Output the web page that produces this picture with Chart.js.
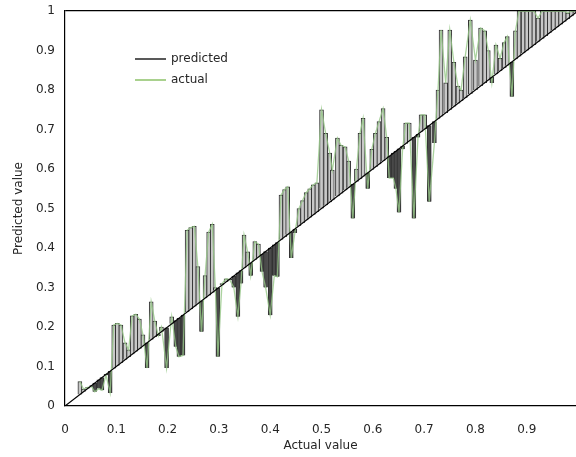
<!DOCTYPE html>
<html>
<head>
<meta charset="utf-8">
<script src="https://cdn.jsdelivr.net/npm/chart.js@4.4.0/dist/chart.umd.min.js"></script>
<style>
  html, body { margin: 0; padding: 0; background: #fff; }
  #wrap { width: 576px; height: 457px; }
</style>
</head>
<body>
<div id="wrap"><canvas id="myChart"></canvas></div>
<script>
// samples sorted by actual value
const actual = [
  0.029, 0.036, 0.044, 0.052, 0.058, 0.066, 0.072, 0.080, 0.088, 0.095,
  0.102, 0.109, 0.117, 0.124, 0.131, 0.138, 0.145, 0.152, 0.160, 0.168,
  0.175, 0.182, 0.188, 0.198, 0.208, 0.216, 0.222, 0.230, 0.238, 0.245,
  0.252, 0.259, 0.266, 0.273, 0.280, 0.287, 0.293, 0.298, 0.306, 0.314,
  0.321, 0.329, 0.337, 0.343, 0.349, 0.356, 0.362, 0.370, 0.377, 0.384,
  0.391, 0.400, 0.408, 0.414, 0.421, 0.428, 0.434, 0.441, 0.448, 0.456,
  0.463, 0.470, 0.477, 0.484, 0.491, 0.500, 0.508, 0.516, 0.521, 0.531,
  0.538, 0.546, 0.553, 0.561, 0.568, 0.575, 0.581, 0.590, 0.598, 0.605,
  0.612, 0.620, 0.627, 0.632, 0.640, 0.645, 0.651, 0.658, 0.664, 0.671,
  0.680, 0.688, 0.694, 0.701, 0.710, 0.720, 0.727, 0.733, 0.742, 0.750,
  0.758, 0.766, 0.772, 0.780, 0.790, 0.800, 0.810, 0.818, 0.825, 0.832,
  0.840, 0.848, 0.856, 0.862, 0.871, 0.878, 0.885, 0.893, 0.900, 0.907,
  0.914, 0.922, 0.930, 0.937, 0.944, 0.952, 0.959, 0.966, 0.973, 0.980,
  0.987, 0.994
];
const predicted = [
  0.062, 0.043, 0.047, 0.049, 0.036, 0.044, 0.040, 0.078, 0.033, 0.205,
  0.209, 0.205, 0.160, 0.142, 0.228, 0.232, 0.220, 0.180, 0.096, 0.264,
  0.215, 0.178, 0.200, 0.096, 0.226, 0.150, 0.125, 0.128, 0.445, 0.452,
  0.455, 0.353, 0.188, 0.330, 0.440, 0.460, 0.300, 0.125, 0.310, 0.322,
  0.320, 0.300, 0.226, 0.310, 0.433, 0.390, 0.330, 0.416, 0.410, 0.340,
  0.300, 0.230, 0.330, 0.327, 0.534, 0.548, 0.555, 0.375, 0.438, 0.500,
  0.520, 0.540, 0.550, 0.560, 0.565, 0.750, 0.690, 0.640, 0.597, 0.678,
  0.660, 0.656, 0.620, 0.475, 0.600, 0.690, 0.728, 0.550, 0.650, 0.690,
  0.720, 0.753, 0.680, 0.577, 0.577, 0.550, 0.490, 0.650, 0.716, 0.716,
  0.475, 0.680, 0.737, 0.737, 0.517, 0.666, 0.800, 0.952, 0.818, 0.952,
  0.870, 0.810, 0.800, 0.884, 0.977, 0.876, 0.957, 0.950, 0.900, 0.818,
  0.914, 0.880, 0.920, 0.935, 0.783, 0.950, 1.000, 1.000, 1.000, 1.000,
  1.000, 0.982, 1.000, 1.000, 1.000, 1.000, 1.000, 1.000, 1.000, 0.995,
  1.000, 1.000
];
const xTicks = [0, 0.1, 0.2, 0.3, 0.4, 0.5, 0.6, 0.7, 0.8, 0.9];
const yTicks = [0, 0.1, 0.2, 0.3, 0.4, 0.5, 0.6, 0.7, 0.8, 0.9, 1];
const legendNames = ["predicted", "actual"];

const textColor = "#262626";
const fontFamily = "'DejaVu Sans', Verdana, sans-serif";

// bars from the diagonal to the predicted value
let barData = actual.map((a, i) => ({ x: a, y: [a, predicted[i]] }));
let lineData = actual.map((a, i) => ({ x: a, y: predicted[i] }));

const insideLegend = {
  id: "insideLegend",
  afterDraw(chart) {
    const ctx = chart.ctx;
    const area = chart.chartArea;
    const colors = ["#595959", "#a9d18e"];
    ctx.save();
    ctx.font = "12px " + fontFamily;
    ctx.textBaseline = "middle";
    legendNames.forEach((name, i) => {
      let y = area.top + 48 + i * 21;
      let x = area.left + 70;
      ctx.strokeStyle = colors[i];
      ctx.lineWidth = 2;
      ctx.beginPath();
      ctx.moveTo(x, y);
      ctx.lineTo(x + 31, y);
      ctx.stroke();
      ctx.fillStyle = textColor;
      ctx.fillText(name, x + 36, y);
    });
    ctx.restore();
  }
};

const config = {
  data: {
    datasets: [
      {
        type: "line",
        label: "diagonal",
        data: [{ x: 0, y: 0 }, { x: 1, y: 1 }],
        borderColor: "#000",
        borderWidth: 1.2,
        pointRadius: 0,
        order: 0
      },
      {
        type: "line",
        label: "actual",
        data: lineData,
        borderColor: "rgba(150,200,135,0.8)",
        borderWidth: 1.3,
        pointRadius: 0,
        tension: 0,
        order: 1
      },
      {
        type: "bar",
        label: "predicted",
        data: barData,
        barThickness: 4,
        borderWidth: 1,
        borderColor: "#333",
        backgroundColor: (c) => {
          let i = c.dataIndex;
          return predicted[i] < actual[i] ? "#4a4a4a" : "#c8c8c8";
        },
        order: 2
      }
    ]
  },
  options: {
    responsive: true,
    maintainAspectRatio: false,
    animation: false,
    layout: { padding: { top: 11, right: 0, left: 4, bottom: 0 } },
    plugins: {
      legend: { display: false },
      tooltip: { enabled: false }
    },
    scales: {
      x: {
        type: "linear",
        offset: false,
        min: 0,
        max: 0.996,
        afterBuildTicks: (scale) => {
          scale.ticks = xTicks.map(v => ({ value: v }));
        },
        afterFit: (scale) => {
          scale.height = 51;
          scale.paddingLeft = 0;
          scale.paddingRight = 0;
        },
        grid: { display: false, offset: false },
        border: { color: "#000", width: 1.2 },
        ticks: {
          color: textColor,
          padding: 9,
          maxRotation: 0,
          font: { family: fontFamily, size: 12 },
          callback: (v) => String(Math.round(v * 10) / 10)
        },
        title: {
          display: true,
          text: "Actual value",
          color: textColor,
          padding: { top: 2 },
          font: { family: fontFamily, size: 12 }
        }
      },
      y: {
        min: 0,
        max: 1,
        afterBuildTicks: (scale) => {
          scale.ticks = yTicks.map(v => ({ value: v }));
        },
        afterFit: (scale) => {
          scale.width = 61;
          scale.paddingTop = 0;
          scale.paddingBottom = 0;
        },
        grid: {
          drawTicks: false,
          color: (c) => (c.tick && c.tick.value === 1 ? "#000" : "rgba(0,0,0,0)"),
          lineWidth: 1.2
        },
        border: { color: "#000", width: 1.2 },
        ticks: {
          color: textColor,
          padding: 10,
          font: { family: fontFamily, size: 12 },
          callback: (v) => String(Math.round(v * 10) / 10)
        },
        title: {
          display: true,
          text: "Predicted value",
          color: textColor,
          padding: { top: 8, bottom: 0 },
          font: { family: fontFamily, size: 12 }
        }
      }
    }
  },
  plugins: [insideLegend]
};

const myChart = new Chart(document.getElementById("myChart"), config);
</script>
</body>
</html>
